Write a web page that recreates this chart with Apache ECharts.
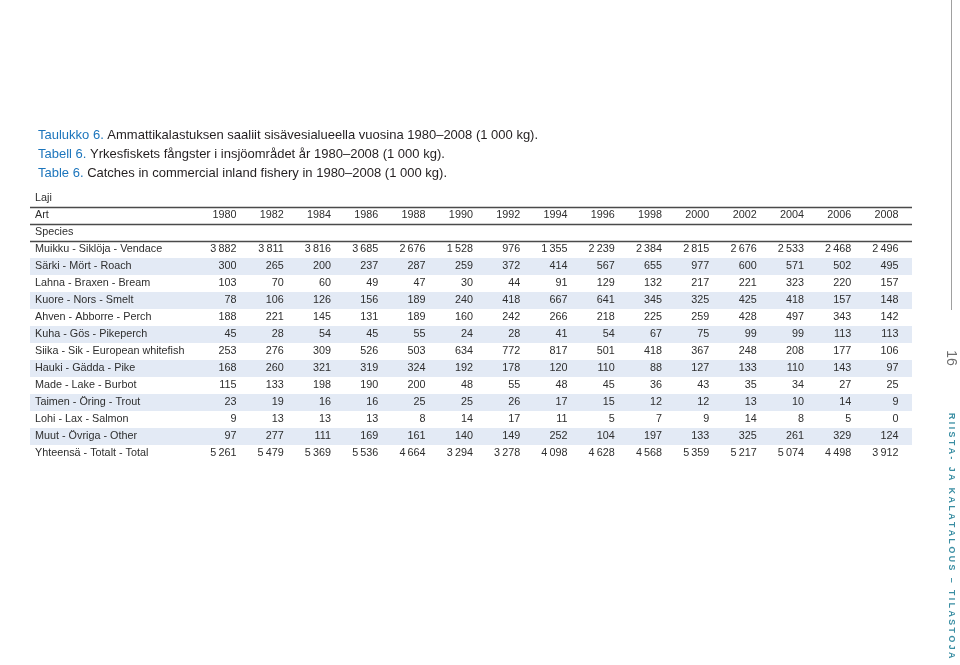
<!DOCTYPE html>
<html>
<head>
<meta charset="utf-8">
<style>html,body{margin:0;padding:0;background:#fff;}#c{width:960px;height:665px;}</style>
<script src="https://cdn.jsdelivr.net/npm/echarts@6/dist/echarts.min.js"></script>
</head>
<body>
<div id="c"></div>
<script>
const years = [1980,1982,1984,1986,1988,1990,1992,1994,1996,1998,2000,2002,2004,2006,2008];
const headerRows = ['Laji','Art','Species'];
const species = [
  'Muikku - Siklöja - Vendace',
  'Särki - Mört - Roach',
  'Lahna - Braxen - Bream',
  'Kuore - Nors - Smelt',
  'Ahven - Abborre - Perch',
  'Kuha - Gös - Pikeperch',
  'Siika - Sik - European whitefish',
  'Hauki - Gädda - Pike',
  'Made - Lake - Burbot',
  'Taimen - Öring - Trout',
  'Lohi - Lax - Salmon',
  'Muut - Övriga - Other',
  'Yhteensä - Totalt - Total'
];
const muikku = [3882,3811,3816,3685,2676,1528,976,1355,2239,2384,2815,2676,2533,2468,2496];
const sarki  = [300,265,200,237,287,259,372,414,567,655,977,600,571,502,495];
const lahna  = [103,70,60,49,47,30,44,91,129,132,217,221,323,220,157];
const kuore  = [78,106,126,156,189,240,418,667,641,345,325,425,418,157,148];
const ahven  = [188,221,145,131,189,160,242,266,218,225,259,428,497,343,142];
const kuha   = [45,28,54,45,55,24,28,41,54,67,75,99,99,113,113];
const siika  = [253,276,309,526,503,634,772,817,501,418,367,248,208,177,106];
const hauki  = [168,260,321,319,324,192,178,120,110,88,127,133,110,143,97];
const made   = [115,133,198,190,200,48,55,48,45,36,43,35,34,27,25];
const taimen = [23,19,16,16,25,25,26,17,15,12,12,13,10,14,9];
const lohi   = [9,13,13,13,8,14,17,11,5,7,9,14,8,5,0];
const muut   = [97,277,111,169,161,140,149,252,104,197,133,325,261,329,124];
const total  = [5261,5479,5369,5536,4664,3294,3278,4098,4628,4568,5359,5217,5074,4498,3912];
const seriesValues = [muikku,sarki,lahna,kuore,ahven,kuha,siika,hauki,made,taimen,lohi,muut,total];
const stripedSpecies = ['Särki - Mört - Roach','Kuore - Nors - Smelt','Kuha - Gös - Pikeperch','Hauki - Gädda - Pike','Taimen - Öring - Trout','Muut - Övriga - Other'];

const rows = headerRows.concat(species);
const TFONT = '10.8px "Liberation Sans", Arial, sans-serif';
const TCOL = '#2e2e2e';
function fmt(v){ return String(v).replace(/\B(?=(\d{3})+(?!\d))/g, '\u2009'); }

const cellData = [];
seriesValues.forEach((arr, si) => {
  arr.forEach((v, yi) => { cellData.push([years[yi], headerRows.length + si, v]); });
});
const headerData = years.map(y => [y, 1, y]);
const labelData = rows.map((r, i) => [0, i]);
const stripeData = stripedSpecies.map(s => [0, rows.indexOf(s)]);
const ruleData = [[0,0],[0,1],[0,2]];

const chart = echarts.init(document.getElementById('c'), null, {renderer:'canvas'});
chart.setOption({
  animation: false,
  backgroundColor: '#ffffff',
  title: {
    left: 33, top: 121,
    text: '{b|Taulukko 6.} Ammattikalastuksen saaliit sisävesialueella vuosina 1980–2008 (1 000 kg).\n{b|Tabell 6.} Yrkesfiskets fångster i insjöområdet år 1980–2008 (1 000 kg).\n{b|Table 6.} Catches in commercial inland fishery in 1980–2008 (1 000 kg).',
    textStyle: {
      fontFamily: '"Liberation Sans", Arial, sans-serif',
      fontSize: 13, fontWeight: 'normal', color: '#231f20', lineHeight: 19,
      rich: { b: { color: '#1c75bc', fontSize: 13, fontFamily: '"Liberation Sans", Arial, sans-serif', lineHeight: 19 } }
    }
  },
  grid: { left: 30, right: 48, top: 190, height: 272, containLabel: false },
  xAxis: { type: 'value', min: 1971.27, max: 2008.57, show: false },
  yAxis: { type: 'category', data: rows, inverse: true, show: false },
  graphic: [
    { type: 'line', shape: { x1: 951.5, y1: 0, x2: 951.5, y2: 310 }, style: { stroke: '#a0a0a0', lineWidth: 1 } },
    { type: 'text', x: 951, y: 358, rotation: -Math.PI/2,
      style: { text: '16', fill: '#6d6d6d', font: '14px "Liberation Sans", Arial, sans-serif', align: 'center', verticalAlign: 'middle' } },
    { type: 'text', x: 951, y: 413, rotation: -Math.PI/2,
      style: { text: 'R I I S T A -   J A   K A L A T A L O U S   –   T I L A S T O J A', fill: '#3a8ea3',
               font: 'bold 8.8px "Liberation Sans", Arial, sans-serif', align: 'left', verticalAlign: 'middle' } }
  ],
  series: [
    {
      type: 'custom', name: 'stripes', silent: true, clip: false, z: 1,
      data: stripeData,
      renderItem: function(params, api) {
        const cs = params.coordSys;
        const p = api.coord([api.value(0), api.value(1)]);
        const h = api.size([0, 1])[1];
        return { type: 'rect', shape: { x: cs.x, y: p[1] - h/2, width: cs.width, height: h },
                 style: { fill: '#e3eaf5' } };
      }
    },
    {
      type: 'custom', name: 'rules', silent: true, clip: false, z: 2,
      data: ruleData,
      renderItem: function(params, api) {
        const cs = params.coordSys;
        const p = api.coord([api.value(0), api.value(1)]);
        const h = api.size([0, 1])[1];
        const y = Math.round(p[1] + h/2) + 0.5;
        return { type: 'line', shape: { x1: cs.x, y1: y, x2: cs.x + cs.width, y2: y },
                 style: { stroke: '#4a4a4a', lineWidth: 1.3 } };
      }
    },
    {
      type: 'custom', name: 'labels', silent: true, clip: false, z: 3,
      data: labelData,
      renderItem: function(params, api) {
        const cs = params.coordSys;
        const idx = api.value(1);
        const p = api.coord([api.value(0), idx]);
        return { type: 'text', x: cs.x + 5, y: p[1],
                 style: { text: rows[idx], font: TFONT, fill: TCOL, align: 'left', verticalAlign: 'middle' } };
      }
    },
    {
      type: 'custom', name: 'years', silent: true, clip: false, z: 3,
      data: headerData,
      renderItem: function(params, api) {
        const p = api.coord([api.value(0), api.value(1)]);
        return { type: 'text', x: p[0], y: p[1],
                 style: { text: String(api.value(2)), font: TFONT, fill: TCOL, align: 'right', verticalAlign: 'middle' } };
      }
    },
    {
      type: 'custom', name: 'cells', silent: true, clip: false, z: 3,
      data: cellData,
      renderItem: function(params, api) {
        const p = api.coord([api.value(0), api.value(1)]);
        return { type: 'text', x: p[0], y: p[1],
                 style: { text: fmt(api.value(2)), font: TFONT, fill: TCOL, align: 'right', verticalAlign: 'middle' } };
      }
    }
  ]
});
</script>
</body>
</html>
